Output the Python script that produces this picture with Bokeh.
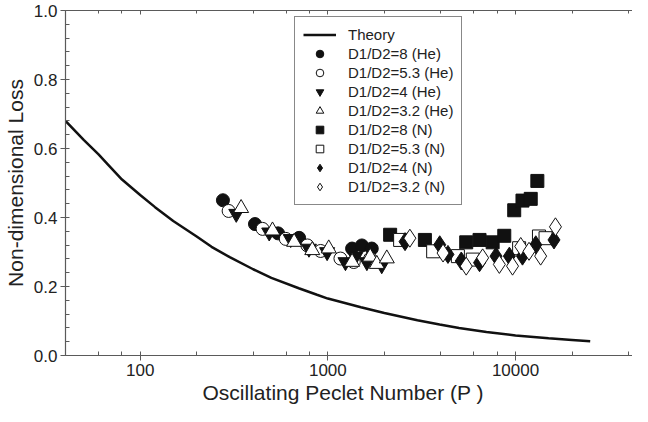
import numpy as np
from bokeh.plotting import figure
from bokeh.models import LogAxis, LogTicker, SingleIntervalTicker, Legend, LegendItem
from bokeh.embed import file_html
from bokeh.resources import INLINE

# ---------------- data ----------------
theory_p = [40, 50, 60, 67, 80, 100, 120, 150, 200, 240, 300, 400, 500, 700, 875,
            1000, 1500, 2000, 3000, 3940, 5000, 7000, 10000, 15000, 20000, 25000]
theory_loss = [0.68, 0.625, 0.583, 0.555, 0.51, 0.465, 0.43, 0.39, 0.345, 0.315, 0.285,
               0.25, 0.225, 0.195, 0.176, 0.165, 0.140, 0.123, 0.102, 0.090, 0.080,
               0.068, 0.058, 0.050, 0.045, 0.041]

he8_p = [276, 409, 543, 703, 1346, 1518, 1714]
he8_loss = [0.450, 0.381, 0.354, 0.341, 0.310, 0.319, 0.310]

he53_p = [296, 449, 597, 778, 915, 1167, 1374, 1681]
he53_loss = [0.419, 0.367, 0.338, 0.319, 0.303, 0.281, 0.271, 0.281]

he4_p = [325, 487, 634, 793, 991, 1241, 1400, 1614, 1937]
he4_loss = [0.411, 0.357, 0.338, 0.310, 0.300, 0.271, 0.286, 0.271, 0.262]

he32_p = [345, 507, 661, 826, 1011, 1346, 1681, 1823, 2061]
he32_loss = [0.427, 0.362, 0.329, 0.305, 0.310, 0.271, 0.286, 0.265, 0.281]

n8_p = [2147, 3289, 5460, 6430, 7550, 8710, 9840, 10890, 12050, 13070]
n8_loss = [0.350, 0.335, 0.328, 0.335, 0.328, 0.347, 0.421, 0.449, 0.454, 0.506]

n53_p = [2427, 3640, 4930, 5920, 10450, 13330, 14450]
n53_loss = [0.335, 0.302, 0.288, 0.278, 0.311, 0.345, 0.340]

n4_p = [2578, 3945, 4365, 5140, 6430, 7870, 9270, 10890, 12820, 16030]
n4_loss = [0.330, 0.321, 0.293, 0.274, 0.269, 0.288, 0.288, 0.288, 0.321, 0.335]

n32_p = [2735, 4110, 5460, 6680, 8200, 9640, 10660, 11800, 13610, 16320]
n32_loss = [0.340, 0.297, 0.259, 0.283, 0.264, 0.259, 0.316, 0.302, 0.288, 0.373]

x_ticks = [100, 1000, 10000]
x_tick_labels = ["100", "1000", "10000"]
y_ticks = [0.0, 0.2, 0.4, 0.6, 0.8, 1.0]
y_tick_labels = ["0.0", "0.2", "0.4", "0.6", "0.8", "1.0"]

FONT = "Liberation Sans"
AXIS_COLOR = "#5a5a5a"
TEXT_COLOR = "#222222"

p = figure(width=632, height=406, x_axis_type="log", x_range=(40, 42000), y_range=(0, 1),
           output_backend="svg", toolbar_location=None,
           min_border_left=62, min_border_right=0, min_border_top=10, min_border_bottom=10)
p.grid.visible = False
p.outline_line_color = None
p.background_fill_color = "white"
p.border_fill_color = "white"

xa = p.xaxis[0]
xa.ticker = LogTicker(desired_num_ticks=4)
xa.major_label_overrides = {t: l for t, l in zip(x_ticks, x_tick_labels)}
xa.axis_label = "Oscillating Peclet Number  (P  )"
ya = p.yaxis[0]
ya.ticker = SingleIntervalTicker(interval=0.2, num_minor_ticks=5)
ya.major_label_overrides = {t: l for t, l in zip(y_ticks, y_tick_labels)}
ya.axis_label = "Non-dimensional Loss"

for ax in (xa, ya):
    ax.axis_line_color = AXIS_COLOR
    ax.axis_line_width = 1.2
    ax.major_tick_line_color = AXIS_COLOR
    ax.minor_tick_line_color = AXIS_COLOR
    ax.major_tick_in = 0
    ax.major_tick_out = 5
    ax.minor_tick_in = 4
    ax.minor_tick_out = 0
    ax.major_label_text_font = FONT
    ax.major_label_text_font_size = "17px"
    ax.major_label_text_color = TEXT_COLOR
    ax.axis_label_text_font = FONT
    ax.axis_label_text_font_size = "21px"
    ax.axis_label_text_font_style = "normal"
    ax.axis_label_text_color = TEXT_COLOR
    ax.major_label_standoff = 3
xa.axis_label_standoff = 2
ya.axis_label_standoff = 4

top = LogAxis(ticker=LogTicker(desired_num_ticks=4))
top.axis_line_color = AXIS_COLOR
top.axis_line_width = 1.2
top.major_tick_line_color = AXIS_COLOR
top.minor_tick_line_color = AXIS_COLOR
top.major_tick_in = 4
top.major_tick_out = 0
top.minor_tick_in = 3
top.minor_tick_out = 0
top.major_label_text_font_size = "1px"
top.major_label_text_color = None
top.major_label_standoff = 0
p.add_layout(top, "above")

# theory curve
r_theory = p.line(theory_p, theory_loss, line_color="#111111", line_width=2.5)

LC = "#111111"
r1 = p.scatter(he8_p, he8_loss, marker="circle", size=13, fill_color=LC, line_color=LC)
r2 = p.scatter(he53_p, he53_loss, marker="circle", size=13, fill_color="white", line_color=LC, line_width=1)
r3 = p.scatter(he4_p, he4_loss, marker="inverted_triangle", size=15, fill_color=LC, line_color=LC)
r4 = p.scatter(he32_p, he32_loss, marker="triangle", size=15, fill_color="white", line_color=LC, line_width=1)
r5 = p.scatter(n8_p, n8_loss, marker="square", size=13, fill_color=LC, line_color=LC)
r6 = p.scatter(n53_p, n53_loss, marker="square", size=13, fill_color="white", line_color=LC, line_width=1)
r7 = p.scatter(n4_p, n4_loss, marker="diamond", size=18, fill_color=LC, line_color=LC)
r8 = p.scatter(n32_p, n32_loss, marker="diamond", size=18, fill_color="white", line_color=LC, line_width=1)

legend_labels = ["Theory", "D1/D2=8 (He)", "D1/D2=5.3 (He)", "D1/D2=4 (He)", "D1/D2=3.2 (He)",
                 "D1/D2=8 (N)", "D1/D2=5.3 (N)", "D1/D2=4 (N)", "D1/D2=3.2 (N)"]
renderers = [r_theory, r1, r2, r3, r4, r5, r6, r7, r8]
legend = Legend(items=[LegendItem(label=l, renderers=[r]) for l, r in zip(legend_labels, renderers)],
                location=(229, 150), padding=8, spacing=0,
                glyph_width=33, glyph_height=19, label_height=19, label_standoff=12,
                label_text_font=FONT, label_text_font_size="15px", label_text_color=TEXT_COLOR,
                border_line_color="#111111", border_line_width=1.2,
                background_fill_color="white", background_fill_alpha=1.0)
p.add_layout(legend, "center")

open("out.html", "w").write(file_html(p, INLINE))
